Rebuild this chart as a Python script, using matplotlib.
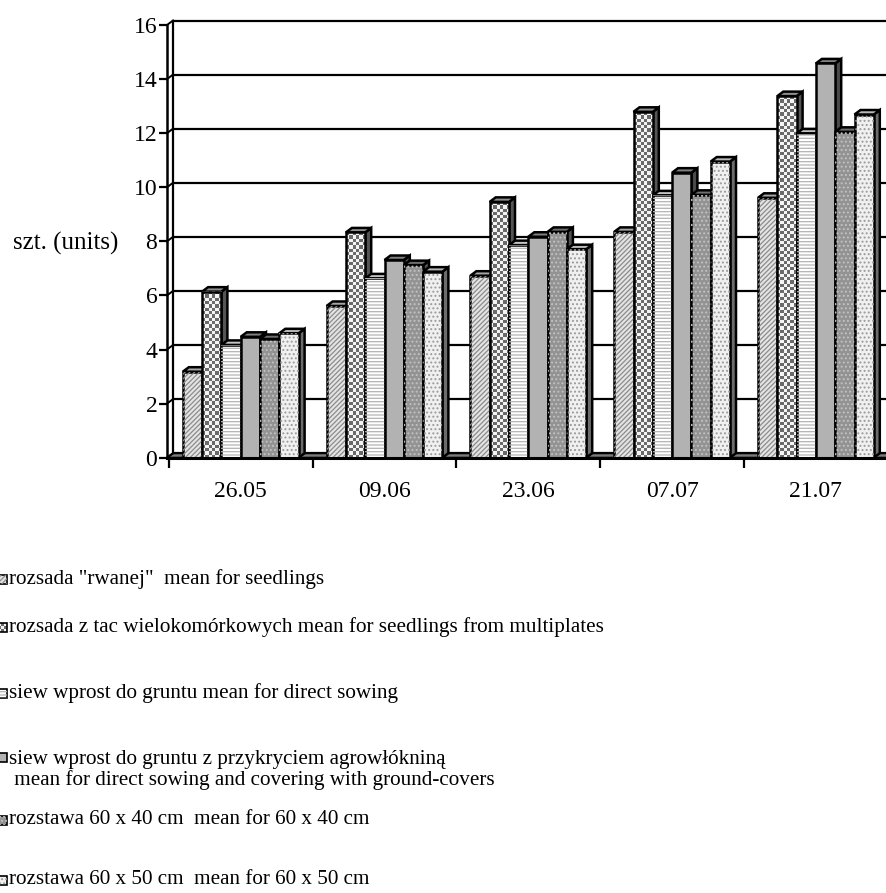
import numpy as np
import matplotlib
matplotlib.use("Agg")
import matplotlib.pyplot as plt
from matplotlib.patches import Polygon
from matplotlib.colors import ListedColormap

plt.rcParams['font.family'] = ['Liberation Serif', 'DejaVu Serif']
plt.rcParams['hatch.linewidth'] = 0.9

# =====================
# Dane
# =====================
dates = ["26.05", "09.06", "23.06", "07.07", "21.07"]
rwanej = [3.18, 5.61, 6.73, 8.35, 9.61]
multiplates = [6.14, 8.33, 9.46, 12.79, 13.37]
direct = [4.17, 6.63, 7.86, 9.70, 11.99]
covered = [4.47, 7.31, 8.17, 10.54, 14.58]
spacing_40 = [4.39, 7.12, 8.35, 9.72, 12.05]
spacing_50 = [4.60, 6.88, 7.71, 10.95, 12.69]
series = [rwanej, multiplates, direct, covered, spacing_40, spacing_50]

labels = [
    'rozsada "rwanej"  mean for seedlings',
    'rozsada z tac wielokomórkowych mean for seedlings from multiplates',
    'siew wprost do gruntu mean for direct sowing',
    'siew wprost do gruntu z przykryciem agrowłókniną\n mean for direct sowing and covering with ground-covers',
    'rozstawa 60 x 40 cm  mean for 60 x 40 cm',
    'rozstawa 60 x 50 cm  mean for 60 x 50 cm',
]
yticks = list(range(0, 17, 2))

# wypełnienia: przód, kreskowanie, kolor kreskowania, góra, bok
styles = [
    dict(face="#e4e4e4", hatch="///////", hcol="#8c8c8c", top="#a6a6a6", side="#7a7a7a", checker=False),
    dict(face="#f2f2f2", hatch=None, hcol=None, top="#8f8f8f", side="#555555", checker=True),
    dict(face="#ffffff", hatch="-----", hcol="#b4b4b4", top="#c4c4c4", side="#9a9a9a", checker=False),
    dict(face="#b2b2b2", hatch=None, hcol=None, top="#808080", side="#4a4a4a", checker=False),
    dict(face="#939393", hatch="....", hcol="#c2c2c2", top="#6e6e6e", side="#505050", checker=False),
    dict(face="#f0f0f0", hatch="....", hcol="#9a9a9a", top="#b8b8b8", side="#6c6c6c", checker=False),
]

# =====================
# Geometria (piksele)
# =====================
W, H = 886, 893
ax_left_px, ax_bottom_px, ax_top_px = 167, 457.7, 25
cat0_px, cat_px = 240.7, 143.8
ymax = 16

x_lo = (ax_left_px - cat0_px) / cat_px
x_hi = (W - cat0_px) / cat_px
px_x = 1 / cat_px
px_y = ymax / (ax_bottom_px - ax_top_px)
dx, dy = 6 * px_x, 4.5 * px_y
bw = 19.3 * px_x
LW = 1.8
checker_cmap = ListedColormap(["#f4f4f4", "#6a6a6a"])


def checker(ax, x, y0, w, h, zorder, cell=3.3):
    nx = max(1, int(round(w / px_x / cell)))
    ny = max(1, int(round(h / px_y / cell)))
    grid = np.add.outer(np.arange(ny), np.arange(nx)) % 2
    ax.imshow(grid, extent=(x, x + w, y0, y0 + h), origin="lower",
              cmap=checker_cmap, interpolation="nearest",
              aspect="auto", zorder=zorder)


def face(ax, pts, st, color, zorder, hatch=True):
    ax.add_patch(Polygon(pts, closed=True, facecolor=color, edgecolor="black",
                         linewidth=LW, zorder=zorder, joinstyle="miter"))
    if hatch and st["hatch"]:
        ax.add_patch(Polygon(pts, closed=True, facecolor="none", edgecolor=st["hcol"],
                             linewidth=0, hatch=st["hatch"], zorder=zorder + 0.01))


def bar3d(ax, x, v, st, z):
    front = [(x, 0), (x + bw, 0), (x + bw, v), (x, v)]
    top = [(x, v), (x + bw, v), (x + bw + dx, v + dy), (x + dx, v + dy)]
    side = [(x + bw, 0), (x + bw + dx, dy), (x + bw + dx, v + dy), (x + bw, v)]
    face(ax, side, st, st["side"], z, hatch=False)
    face(ax, top, st, st["top"], z + 0.1, hatch=False)
    if st["checker"]:
        checker(ax, x, 0, bw, v, z + 0.2)
        ax.add_patch(Polygon(front, closed=True, facecolor="none", edgecolor="black",
                             linewidth=LW, zorder=z + 0.3))
    else:
        face(ax, front, st, st["face"], z + 0.2)


fig = plt.figure(figsize=(W / 100, H / 100), dpi=100)
ax = fig.add_axes([ax_left_px / W, 1 - ax_bottom_px / H,
                   1 - ax_left_px / W, (ax_bottom_px - ax_top_px) / H])

# ściana boczna i linie siatki na tylnej ścianie
for t in yticks:
    ax.plot([x_lo + dx, x_hi + 1], [t + dy, t + dy], color="black", lw=1.6, zorder=2,
            clip_on=False, solid_capstyle="butt")
    ax.plot([x_lo, x_lo + dx], [t, t + dy], color="black", lw=1.4, zorder=2, clip_on=False)
ax.plot([x_lo + dx, x_lo + dx], [dy, ymax + dy], color="black", lw=1.6, zorder=2, clip_on=False)

# podłoga
floor = [(x_lo, 0), (x_hi + 1, 0), (x_hi + 1 + dx, dy), (x_lo + dx, dy)]
ax.add_patch(Polygon(floor, closed=True, facecolor="#7c7c7c", edgecolor="black",
                     linewidth=1.4, zorder=1.5, clip_on=False))

# słupki
n = len(series)
z = 3
for i in range(len(dates)):
    start = i - n * bw / 2
    for j, vals in enumerate(series):
        bar3d(ax, start + j * bw, vals[i], styles[j], z)
        z += 1

ax.set_xlim(x_lo, x_hi)
ax.set_ylim(0, ymax)

ax.spines["top"].set_visible(False)
ax.spines["right"].set_visible(False)
ax.spines["left"].set_linewidth(1.8)
ax.spines["bottom"].set_linewidth(2.2)
ax.spines["left"].set_zorder(50)
ax.spines["bottom"].set_zorder(50)

ax.set_yticks(yticks)
ax.set_yticklabels([str(t) for t in yticks], fontsize=17)
ax.tick_params(axis="y", direction="out", length=6, width=1.6, pad=1)

ax.set_xticks([k + 0.5 for k in range(-1, len(dates) - 1)])
ax.set_xticklabels([])
ax.set_xticks(range(len(dates)), minor=True)
ax.set_xticklabels(dates, minor=True, fontsize=17)
ax.tick_params(axis="x", which="major", direction="out", length=7, width=1.6)
ax.tick_params(axis="x", which="minor", length=0, pad=17)

fig.text(66 / W, 1 - 243 / H, "szt. (units)", fontsize=18, ha="center", va="center")

# =====================
# Legenda
# =====================
lax = fig.add_axes([0, 0, 1, 1])
lax.set_xlim(0, W)
lax.set_ylim(H, 0)
lax.axis("off")

legend_y = [579, 627, 693, 770, 820, 880]
for k, (lab, st) in enumerate(zip(labels, styles)):
    yc = legend_y[k]
    my = yc - 13 if "\n" in lab else yc
    box = [(-2, my - 4), (7, my - 4), (7, my + 5), (-2, my + 5)]
    if st["checker"]:
        lax.imshow(np.add.outer(np.arange(3), np.arange(3)) % 2, extent=(-2, 7, my + 5, my - 4),
                   cmap=checker_cmap, interpolation="nearest", aspect="auto", zorder=3)
        lax.add_patch(Polygon(box, closed=True, facecolor="none", edgecolor="black",
                              linewidth=1.2, zorder=4))
    else:
        lax.add_patch(Polygon(box, closed=True, facecolor=st["face"], edgecolor="black",
                              linewidth=1.2, zorder=3))
        if st["hatch"]:
            lax.add_patch(Polygon(box, closed=True, facecolor="none", edgecolor=st["hcol"],
                                  linewidth=0, hatch=st["hatch"], zorder=3.1))
    lax.text(9, yc, lab, fontsize=15.2, ha="left", va="center", linespacing=1.05)

lax.set_xlim(0, W)
lax.set_ylim(H, 0)

fig.savefig("out.png", dpi=100)
